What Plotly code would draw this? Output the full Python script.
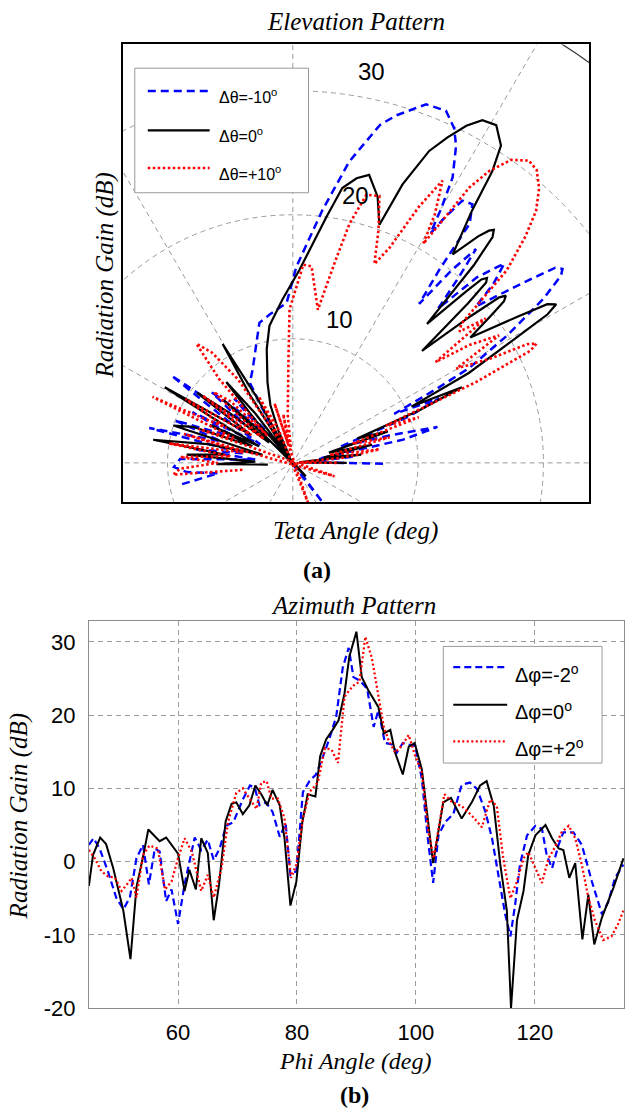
import numpy as np
import plotly.graph_objects as go

W, H = 625, 1120

# ---------------- Elevation pattern data (polar: angle in deg, gain in dB) ----------------
ANG_BLUE = [-0.5, 3, 6, 9, 12, 14.1, 16, 19, 22, 24, 26, 27.5, 28.5, 31, 33.5, 35.2, 36, 36.9,
            38, 40.8, 42, 43.6, 45.5, 47, 48.5, 49.7, 50.8, 51.8, 53.1, 53.8, 55.5, 57.4, 58.6,
            59.3, 60.0, 61.0, 63.0, 64.5, 66.7, 69.8, 73.6, 75.7, 79.5, 83.4, 89.0, 92.2, 98.8,
            103.3, 106.7, 110, 113, 118, 121, 124, 126.8, 129, 132, 134, 136, 138.7, 141, 144,
            147, 150, 153, 156, 160, 163, 166.2, 169, 172, 175, 178, 182, 185, 188, 191]
GAIN_BLUE_EL = [7.2, 1.0, 5.0, 2.0, 9.0, 11.9, 8.0, 4.0, 10.0, 12.8, 9.0, 13.0, 16.0, 20.0, 24.0,
                26.2, 26.6, 26.2, 24.0, 19.3, 21.5, 23.3, 21.0, 17.0, 20.0, 22.6, 20.0, 16.3,
                19.5, 23.9, 25.3, 25.1, 23.0, 21.5, 23.7, 26.3, 28.7, 29.9, 30.9, 30.8, 29.2,
                28.1, 24.7, 20.5, 15.8, 12.9, 12.1, 11.6, 10.1, 9.0, 8.2, 7.3, 3.0, 0.5, -4.0,
                3.0, 7.0, 3.0, 6.0, 8.6, 5.0, 12.0, 6.0, 3.0, 9.0, 5.0, 10.0, 6.0, 11.8, 4.0, 8.0,
                3.0, 9.0, 9.5, 8.5, 6.0, 9.0]

ANG_BLACK = [0, 4, 7, 10, 13, 16, 18.5, 21, 22.8, 24.3, 25.6, 27.3, 29.5, 30.5, 31.3, 32.2, 33.3,
             35.5, 37.0, 37.7, 38.4, 39.0, 39.8, 41.2, 42.6, 43.3, 43.9, 44.5, 45.0, 46.3, 47.8,
             48.8, 49.5, 50.1, 51.0, 52.8, 54.9, 55.9, 57.0, 59.2, 61.3, 63.0, 64.8, 66.6, 68.7,
             70.2, 72.5, 75.3, 77.5, 79.9, 82.3, 84.9, 88.0, 93.6, 99.6, 102.8, 107.3, 111.0,
             114.0, 116.5, 118.5, 120.3, 122.0, 124.5, 127.0, 129.2, 131.0, 133.5, 135.5, 137.5,
             139.5, 141.5, 143.5, 146.0, 149.2, 151.5, 153.5, 155.3, 157.5, 160.0, 162.5, 165.0,
             167.5, 170.5, 173.0, 175.5, 178.0, 181.0, 184.0]
GAIN_BLACK_EL = [4.3, 0.5, 5.5, 2.5, 6.5, 3.0, 8.0, 5.5, 11.0, 14.8, 10.5, 15.8, 20.5, 23.6,
                 24.6, 24.0, 21.5, 17.4, 20.0, 21.3, 21.7, 21.2, 18.5, 13.7, 19.0, 21.2, 21.5,
                 21.1, 19.5, 15.5, 21.5, 24.2, 24.7, 24.4, 23.5, 21.1, 24.9, 28.4, 30.5, 31.7,
                 31.5, 30.5, 29.0, 27.4, 24.1, 20.4, 22.5, 24.0, 23.5, 22.5, 20.0, 17.7, 15.6,
                 13.2, 11.2, 9.4, 6.8, 5.0, 2.8, 0.5, 6.0, 11.1, 6.5, 0.5, 5.0, 8.4, 4.5, -1.5,
                 4.0, 7.5, 2.5, 6.5, 9.5, 4.0, 11.9, 5.5, 3.0, 7.3, 3.5, 8.5, 10.0, 2.5, 7.0, 11.3,
                 5.5, 8.5, 3.0, 6.1, 2.0]

ANG_RED = [0, 3, 6, 9, 12, 15, 18, 20.1, 22, 24, 25.5, 26.3, 27.1, 28, 30.2, 32, 34, 35.5, 37.1,
           38.5, 39.8, 42.3, 44.5, 46.3, 48.4, 50.5, 52.3, 54.5, 56.3, 57.6, 58.7, 59.5, 60.5,
           62.3, 64, 66, 67.9, 70, 72.2, 74.8, 76.8, 78.3, 80.8, 84.6, 87, 89, 91.2, 92.3, 96,
           98, 101, 104, 107, 110.6, 113, 117, 120, 123, 126, 128.7, 131, 133, 135, 138, 140,
           143, 146, 149, 152, 154.6, 157, 160, 162, 165, 168, 171, 174, 177, 180, 183, 185.7,
           188]
GAIN_RED_EL = [3.5, 0.5, 4.0, 7.0, 3.0, 8.0, 5.0, 10.7, 8.0, 16.0, 21.0, 21.7, 21.0, 18.0, 15.1,
               19.4, 17.0, 14.0, 19.3, 17.0, 17.5, 23.1, 26.0, 28.1, 29.6, 30.6, 30.8, 30.0,
               28.3, 26.3, 22.5, 20.5, 23.0, 25.7, 23.0, 19.0, 17.3, 20.0, 22.6, 22.4, 19.8,
               16.5, 12.5, 15.9, 16.0, 14.0, 12.4, 8.6, 3.9, 1.0, 4.0, 1.5, 5.0, -3.4, 3.0, 6.0,
               2.0, 8.0, 11.0, 12.3, 9.0, 3.0, 7.0, 8.5, 3.0, 9.0, 4.0, 10.0, 6.0, 12.4, 5.0,
               8.0, -3.5, 9.0, 4.0, 10.0, 5.0, 9.0, 6.0, 9.0, 9.6, 4.0]

RING_VALUES = [10, 20, 30]
RING_OUTER = 40
SPOKE_ANGLES = [0, 30, 60, 90, 120, 150]
ELEV_NAMES = ["\u0394\u03b8=-10<sup>o</sup>", "\u0394\u03b8=0<sup>o</sup>", "\u0394\u03b8=+10<sup>o</sup>"]

# ---------------- Azimuth pattern data ----------------
PHI_BLUE = [45, 45.8, 46.8, 48.2, 49.6, 50.8, 51.9, 53.0, 54.1, 55.1, 56.1, 56.9, 58.0, 58.9, 60.0,
            61.1, 62.8, 63.9, 65.0, 66.0, 67.0, 68.1, 69.3, 70.9, 72.1, 72.9, 73.7, 74.8, 75.9,
            77.1, 78.1, 78.9, 79.9, 81.0, 82.1, 83.2, 84.4, 85.5, 86.6, 87.7, 88.7, 89.5, 90.6,
            91.8, 92.9, 93.7, 94.8, 96.0, 96.8, 97.8, 98.8, 99.9, 101.0, 102.0, 102.9, 103.8,
            104.9, 106.3, 107.7, 109.1, 110.3, 111.7, 112.8, 113.9, 115.0, 115.9, 116.7, 117.5,
            118.7, 120.1, 121.2, 122.0, 122.9, 124.0, 124.8, 126.5, 127.9, 129.6, 131.3, 132.4,
            133.5, 134.9]
GAIN_BLUE_AZ = [2.3, 3.2, 1.8, -1.3, -4.9, -6.5, -4.9, 0.45, 2.3, -3.1, 1.8, 1.4, -5.4, -3.8,
                -8.5, -3.1, 3.3, 1.6, 3.0, 0.2, 1.8, 4.9, 5.4, 8.5, 10.4, 10.1, 7.7, 8.1, 6.8, 3.4,
                5.2, -1.8, -1.3, 9.5, 11.0, 11.9, 14.4, 16.9, 19.8, 26.5, 29.2, 25.2, 24.7, 23.6,
                18.4, 20.7, 16.2, 16.0, 14.9, 16.2, 16.0, 15.8, 11.3, 3.2, -2.9, 3.6, 5.4, 6.5,
                10.5, 10.8, 9.9, 6.8, 3.2, -1.7, -7.1, -10.2, -5.8, -0.4, 3.6, 4.9, 4.5, 0.9,
                -0.9, 2.3, 4.0, 4.0, 2.3, -2.7, -7.2, -5.4, -2.2, -0.4]

PHI_BLACK = [45, 45.7, 46.9, 47.9, 49.1, 50.8, 52.0, 53.0, 54.2, 55.0, 56.9, 58.0, 60.0, 61.1,
             61.9, 63.0, 63.9, 65.0, 66.0, 66.9, 68.0, 69.0, 69.8, 70.9, 72.0, 73.0, 74.0, 75.0,
             75.9, 77.1, 77.9, 78.9, 79.9, 80.9, 81.8, 83.1, 83.9, 84.9, 86.0, 87.0, 88.0, 88.8,
             90.0, 90.9, 92.0, 93.7, 94.6, 95.7, 96.5, 97.8, 98.8, 99.8, 101.0, 102.0, 102.9,
             104.6, 105.9, 107.7, 109.4, 110.8, 111.9, 113.1, 114.2, 115.3, 116.0, 117.0, 118.1,
             118.9, 120.1, 121.8, 122.9, 124.0, 124.8, 125.8, 126.8, 128.0, 129.0, 130.0, 131.3,
             133.2, 134.9]
GAIN_BLACK_AZ = [-3.3, 0.9, 3.3, 2.4, -0.9, -6.7, -13.3, -3.5, 1.0, 4.4, 2.8, 3.3, 1.1, -4.0,
                 -1.1, -3.8, 3.2, 1.2, -8.0, -3.1, 5.5, 7.9, 8.1, 6.5, 7.7, 10.4, 9.2, 7.7, 9.8,
                 7.7, 3.2, -6.0, -2.7, 5.4, 9.2, 8.9, 14.4, 16.7, 18.0, 19.3, 23.0, 28.0, 31.4,
                 25.2, 23.4, 21.1, 17.5, 18.0, 14.9, 11.9, 15.7, 16.2, 12.6, 5.4, -0.2, 8.1, 8.7,
                 5.9, 8.1, 10.4, 11.0, 7.6, -0.4, -6.7, -20.0, -8.0, -4.0, 0.9, 3.6, 5.0, 3.2, 1.8,
                 1.6, -2.2, -0.2, -10.6, -4.5, -11.3, -7.6, -3.6, 0.45]

PHI_RED = [45, 46.0, 47.1, 48.2, 49.4, 50.5, 51.6, 52.2, 53.0, 54.1, 55.2, 56.6, 57.8, 58.9, 60.0,
           61.1, 62.3, 63.9, 65.0, 66.0, 67.3, 68.4, 69.8, 70.9, 72.1, 73.2, 74.0, 74.9, 75.7,
           76.8, 77.9, 79.0, 79.9, 81.0, 82.1, 83.5, 84.7, 85.8, 86.9, 88.0, 88.8, 89.8, 90.5,
           91.5, 92.6, 93.7, 94.6, 95.4, 96.5, 97.6, 98.8, 99.9, 101.0, 102.1, 103.0, 103.8,
           104.8, 106.1, 107.7, 109.4, 111.1, 112.5, 113.6, 114.7, 115.9, 117.0, 118.1, 118.9,
           120.1, 121.2, 122.3, 123.4, 124.5, 125.7, 126.8, 127.9, 129.0, 130.1, 131.5, 132.9,
           134.0, 134.9]
GAIN_RED_AZ = [1.6, 0.45, -1.3, -2.0, -2.2, -4.0, -2.9, -2.2, -4.9, 0.9, 2.2, 1.8, -3.8, -2.7,
               0.45, 3.2, 1.4, -4.0, -1.8, -4.9, -0.9, 5.4, 9.4, 10.0, 8.5, 7.2, 10.8, 11.0, 8.6,
               8.6, 5.9, -2.2, -0.4, 5.9, 9.5, 10.8, 15.5, 15.3, 13.5, 22.5, 23.4, 24.3, 24.5,
               30.7, 27.8, 22.9, 18.4, 16.6, 14.9, 15.8, 17.3, 14.4, 12.2, 4.1, 0.45, 4.5, 9.2,
               8.1, 7.6, 6.3, 4.7, 8.5, 7.6, 0.4, -5.0, -2.7, 0.45, 1.3, -0.9, -2.9, 0.45, 2.0,
               4.0, 4.9, 3.2, -0.4, -4.9, -8.0, -10.7, -10.2, -8.5, -6.7]

AZ_XTICKS = [60, 80, 100, 120]
AZ_YTICKS = [-20, -10, 0, 10, 20, 30]
AZ_YTICKTEXT = ["-20", "-10", "0", "10", "20", "30"]
AZ_NAMES = ["\u0394\u03c6=-2<sup>o</sup>", "\u0394\u03c6=0<sup>o</sup>", "\u0394\u03c6=+2<sup>o</sup>"]

# ---------------- styles ----------------
BLUE, BLACK, RED = "#0000ff", "#000000", "#ff0000"
STYLES = [dict(color=BLUE, dash="8px,5px", width=2.5),
          dict(color=BLACK, dash="solid", width=2.2),
          dict(color=RED, dash="2.5px,2.5px", width=2.6)]
AZ_STYLES = [dict(color=BLUE, dash="7px,4px", width=2.2),
             dict(color=BLACK, dash="solid", width=2.0),
             dict(color=RED, dash="2px,2.5px", width=2.3)]
GRID = "#9a9a9a"
SERIF = "Liberation Serif"
SANS = "Liberation Sans"


def px(x):
    return x / W


def py(y):
    return 1 - y / H


def polar_xy(ang, gain):
    a = np.deg2rad(np.asarray(ang, dtype=float))
    g = np.asarray(gain, dtype=float)
    return g * np.cos(a), g * np.sin(a)


fig = go.Figure()

# top: polar pattern drawn on equal-scale cartesian axes
for ang, gain, st in [(ANG_BLUE, GAIN_BLUE_EL, STYLES[0]),
                      (ANG_BLACK, GAIN_BLACK_EL, STYLES[1]),
                      (ANG_RED, GAIN_RED_EL, STYLES[2])]:
    x, y = polar_xy(ang, gain)
    fig.add_trace(go.Scatter(x=x, y=y, mode="lines", line=st, xaxis="x", yaxis="y",
                             showlegend=False, hoverinfo="skip"))

# bottom: azimuth pattern
for phi, gain, st in [(PHI_BLUE, GAIN_BLUE_AZ, AZ_STYLES[0]),
                      (PHI_BLACK, GAIN_BLACK_AZ, AZ_STYLES[1]),
                      (PHI_RED, GAIN_RED_AZ, AZ_STYLES[2])]:
    fig.add_trace(go.Scatter(x=phi, y=gain, mode="lines", line=st, xaxis="x2", yaxis="y2",
                             showlegend=False, hoverinfo="skip"))

shapes = []
# polar grid rings
for r in RING_VALUES:
    shapes.append(dict(type="circle", xref="x", yref="y", x0=-r, y0=-r, x1=r, y1=r,
                       line=dict(color=GRID, width=1, dash="5px,4px"), layer="below"))
shapes.append(dict(type="circle", xref="x", yref="y", x0=-RING_OUTER, y0=-RING_OUTER,
                   x1=RING_OUTER, y1=RING_OUTER, line=dict(color="#333333", width=1.2),
                   layer="below"))
for a in SPOKE_ANGLES:
    c, s = np.cos(np.deg2rad(a)), np.sin(np.deg2rad(a))
    shapes.append(dict(type="line", xref="x", yref="y", x0=-RING_OUTER * c, y0=-RING_OUTER * s,
                       x1=RING_OUTER * c, y1=RING_OUTER * s,
                       line=dict(color=GRID, width=1, dash="5px,4px"), layer="below"))

annotations = []
for v in RING_VALUES:
    annotations.append(dict(xref="x", yref="y", x=2.45 + 0.127 * v, y=v + 1.57, text=str(v),
                            showarrow=False, font=dict(family=SANS, size=24, color="black"),
                            xanchor="center", yanchor="middle"))

# manual legend - top
shapes.append(dict(type="rect", xref="paper", yref="paper", x0=px(135), x1=px(309),
                   y0=py(195), y1=py(69), line=dict(color="#999999", width=1),
                   fillcolor="white", layer="above"))
for i, (yy, st) in enumerate(zip([92, 132, 170], STYLES)):
    shapes.append(dict(type="line", xref="paper", yref="paper", x0=px(148), x1=px(210),
                       y0=py(yy), y1=py(yy), line=st, layer="above"))
    annotations.append(dict(xref="paper", yref="paper", x=px(217), y=py(yy + 5),
                            text=ELEV_NAMES[i], showarrow=False, xanchor="left",
                            yanchor="middle", font=dict(family=SANS, size=16, color="black")))

# manual legend - bottom
shapes.append(dict(type="rect", xref="paper", yref="paper", x0=px(444), x1=px(603),
                   y0=py(772), y1=py(654), line=dict(color="#999999", width=1),
                   fillcolor="white", layer="above"))
for i, (yy, st) in enumerate(zip([675, 713, 750], AZ_STYLES)):
    shapes.append(dict(type="line", xref="paper", yref="paper", x0=px(454), x1=px(508),
                       y0=py(yy), y1=py(yy), line=st, layer="above"))
    annotations.append(dict(xref="paper", yref="paper", x=px(514), y=py(yy + 6),
                            text=AZ_NAMES[i], showarrow=False, xanchor="left",
                            yanchor="middle", font=dict(family=SANS, size=20, color="black")))


# titles / labels
def label(text, x, y, size=25, angle=0, bold=False):
    t = f"<b>{text}</b>" if bold else f"<i>{text}</i>"
    annotations.append(dict(xref="paper", yref="paper", x=px(x), y=py(y), text=t,
                            showarrow=False, textangle=angle, xanchor="center",
                            yanchor="middle", font=dict(family=SERIF, size=size, color="black")))


label("Elevation Pattern", 357, 22)
label("Teta Angle (deg)", 356, 537)
label("Radiation Gain (dB)", 105, 278, angle=-90)
label("(a)", 318, 577, size=24, bold=True)
label("Azimuth Pattern", 354, 613)
label("Phi Angle (deg)", 356, 1073, size=24)
label("Radiation Gain (dB)", 19, 825, angle=-90)
label("(b)", 355, 1108, size=24, bold=True)

x0p, x1p = 123, 590
y0p, y1p = 45, 508
ox, oy, sc = 293.3, 468.3, 12.55

fig.update_layout(
    width=W, height=H, margin=dict(l=0, r=0, t=0, b=0),
    paper_bgcolor="white", plot_bgcolor="white", showlegend=False,
    shapes=shapes, annotations=annotations,
    xaxis=dict(domain=[px(x0p), px(x1p)], range=[(x0p - ox) / sc, (x1p - ox) / sc],
               showgrid=False, zeroline=False, showticklabels=False, ticks="",
               showline=True, mirror=True, linecolor="black", linewidth=2, anchor="y",
               fixedrange=True),
    yaxis=dict(domain=[py(y1p), py(y0p)], range=[(oy - y1p) / sc, (oy - y0p) / sc],
               showgrid=False, zeroline=False, showticklabels=False, ticks="",
               showline=True, mirror=True, linecolor="black", linewidth=2, anchor="x",
               fixedrange=True),
    xaxis2=dict(domain=[px(89), 1.0], range=[45, 135], anchor="y2",
                tickvals=AZ_XTICKS, ticks="", showgrid=True, gridcolor=GRID, gridwidth=1,
                griddash="5px,4px", zeroline=False, showline=True, mirror=True,
                linecolor="#8c8c8c", linewidth=1, ticklabelstandoff=4,
                tickfont=dict(family=SANS, size=22, color="black")),
    yaxis2=dict(domain=[py(1020), py(628)], range=[-20, 32.9], anchor="x2",
                tickvals=AZ_YTICKS, ticktext=AZ_YTICKTEXT, ticks="", showgrid=True,
                gridcolor=GRID, gridwidth=1,
                griddash="5px,4px", zeroline=False, showline=True, mirror=True,
                linecolor="#8c8c8c", linewidth=1, ticklabelstandoff=8,
                tickfont=dict(family=SANS, size=22, color="black")),
)

fig.write_html("out.html")
